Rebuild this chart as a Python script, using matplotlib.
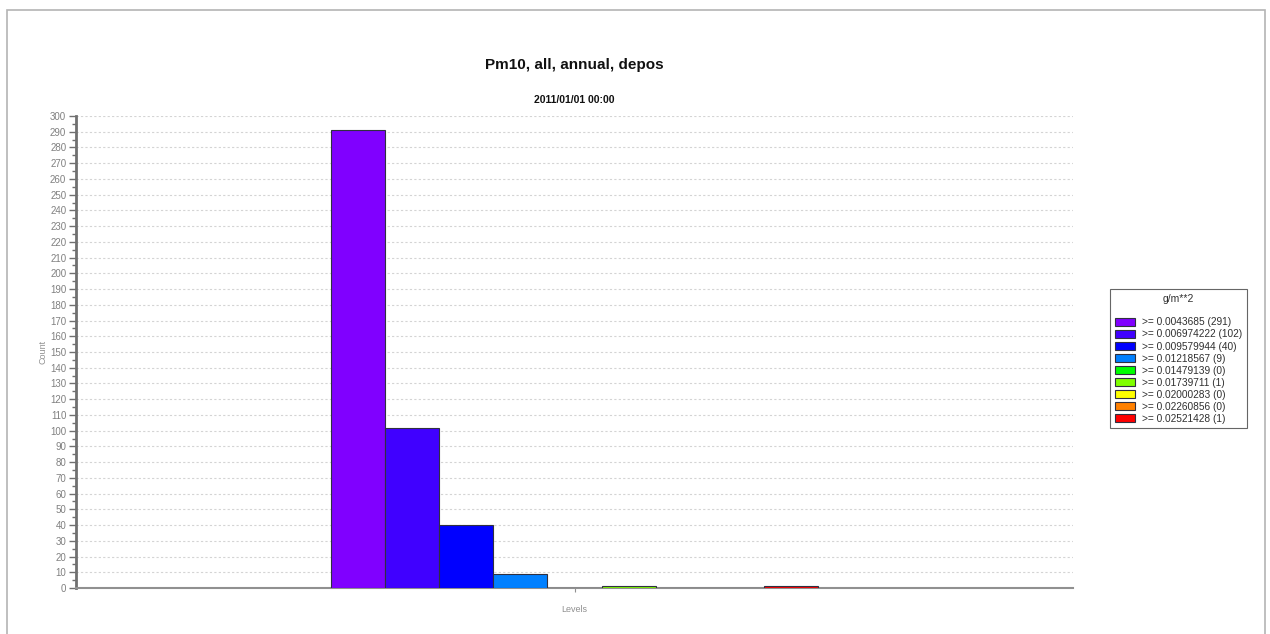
import matplotlib
matplotlib.use("Agg")
import matplotlib.pyplot as plt
from matplotlib.patches import Rectangle
from matplotlib.ticker import MultipleLocator

# ---- data ----
thresholds = ["0.0043685", "0.006974222", "0.009579944", "0.01218567", "0.01479139",
              "0.01739711", "0.02000283", "0.02260856", "0.02521428"]
counts = [291, 102, 40, 9, 0, 1, 0, 0, 1]
colors = ["#8000FF", "#4000FF", "#0000FF", "#0080FF", "#00FF00",
          "#80FF00", "#FFFF00", "#FF8000", "#FF0000"]
title = "Pm10, all, annual, depos"
subtitle = "2011/01/01 00:00"
legend_title = "g/m**2"
x_label = "Levels"
y_label = "Count"

plt.rcParams['font.family'] = ['Liberation Sans', 'DejaVu Sans']

W, H = 1270, 634
fig = plt.figure(figsize=(W / 100, H / 100), dpi=100)

# outer frame
fig.patches.append(Rectangle((7 / W, -0.1), (1265 - 7) / W, 1.1 - 10 / H,
                             transform=fig.transFigure, fill=False,
                             edgecolor="#b4b4b4", linewidth=1.2))

ax = fig.add_axes([76 / W, 1 - 588 / H, (1073 - 76) / W, (588 - 116) / H])

handles = []
for i, (c, col) in enumerate(zip(counts, colors)):
    b = ax.bar(i, c, width=1.0, color=col, edgecolor="#303040", linewidth=0.8, zorder=3)
    handles.append(b)

span = (1073 - 76) / 54.2
ax.set_xlim(4 - span / 2, 4 + span / 2)
ax.set_ylim(0, 300)

ax.yaxis.set_major_locator(MultipleLocator(10))
ax.yaxis.set_minor_locator(MultipleLocator(5))
ax.tick_params(axis="y", which="major", length=5, width=1, color="#707070",
               labelsize=7, labelcolor="#808080", pad=2)
ax.tick_params(axis="y", which="minor", length=3, width=1, color="#707070")
ax.set_xticks([4])
ax.set_xticklabels([""])
ax.tick_params(axis="x", length=3, color="#909090")

ax.grid(axis="y", which="major", linestyle=(0, (2, 2)), color="#d4d4d4", linewidth=0.8, zorder=0)

for s in ["top", "right"]:
    ax.spines[s].set_visible(False)
ax.spines["left"].set_color("#707070")
ax.spines["left"].set_linewidth(2)
ax.spines["bottom"].set_color("#909090")
ax.spines["bottom"].set_linewidth(1.5)

ax.set_ylabel(y_label, fontsize=6.5, color="#909090", labelpad=2)
ax.set_xlabel(x_label, fontsize=6.5, color="#909090", labelpad=6)

fig.text(574 / W, 1 - 65 / H, title, ha="center", va="center",
         fontsize=11, fontweight="bold", color="#111111")
fig.text(574 / W, 1 - 100 / H, subtitle, ha="center", va="center",
         fontsize=7.5, fontweight="bold", color="#111111")

labels = [">= %s (%d)" % (t, c) for t, c in zip(thresholds, counts)]
leg = fig.legend([h[0] for h in handles], labels, loc="upper left",
                 bbox_to_anchor=(1110 / W, 1 - 289 / H), title=legend_title,
                 frameon=True, fancybox=False, edgecolor="#404040", fontsize=7.3,
                 title_fontsize=7.5, handlelength=2.0, handleheight=0.85,
                 labelspacing=0.2, borderaxespad=0, borderpad=0.45,
                 handletextpad=0.7)
leg.get_frame().set_linewidth(0.8)
for t in leg.get_texts():
    t.set_color("#303030")
leg.get_title().set_color("#303030")
leg._legend_box.sep = 10

fig.savefig("out.png", dpi=100)
